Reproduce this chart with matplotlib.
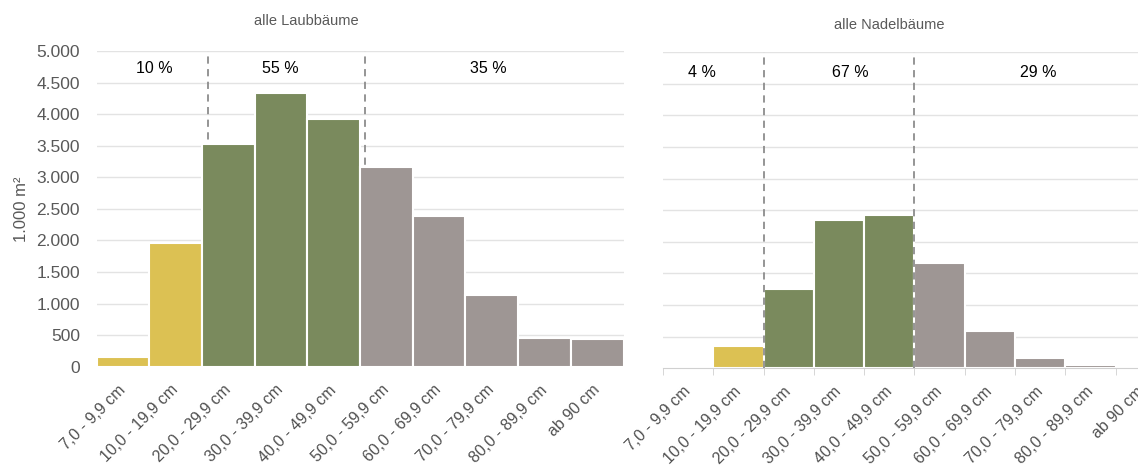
import numpy as np
import matplotlib.pyplot as plt

plt.rcParams['font.family'] = ['Liberation Sans', 'DejaVu Sans']

classes = ['7,0 - 9,9 cm', '10,0 - 19,9 cm', '20,0 - 29,9 cm', '30,0 - 39,9 cm',
           '40,0 - 49,9 cm', '50,0 - 59,9 cm', '60,0 - 69,9 cm', '70,0 - 79,9 cm',
           '80,0 - 89,9 cm', 'ab 90 cm']
laub  = [150, 1960, 3520, 4330, 3930, 3160, 2380, 1140, 460, 445]
nadel = [15, 360, 1250, 2350, 2420, 1660, 590, 170, 55, 35]
group = [0, 0, 1, 1, 1, 2, 2, 2, 2, 2]          # 0 = klein, 1 = mittel, 2 = stark
laub_pct  = ['10 %', '55 %', '35 %']
nadel_pct = ['4 %', '67 %', '29 %']
yticks = [0, 500, 1000, 1500, 2000, 2500, 3000, 3500, 4000, 4500, 5000]
ytick_lbl = ['0', '500', '1.000', '1.500', '2.000', '2.500', '3.000', '3.500',
             '4.000', '4.500', '5.000']

cols = ['#DCC153', '#7A8A5D', '#9E9694']
grid_c = '#E3E3E3'
x = np.arange(len(classes))

fig = plt.figure(figsize=(11.38, 4.67), dpi=100)
ax1 = fig.add_axes([0.0849, 0.2148, 0.4630, 0.6760])
ax2 = fig.add_axes([0.5826, 0.2113, 0.4420, 0.6773])

def style(ax):
    ax.set_xlim(-0.5, 9.5)
    ax.set_ylim(0, 5000)
    ax.set_yticks(yticks)
    ax.grid(axis='y', color=grid_c, lw=1.0, zorder=0)
    ax.set_axisbelow(True)
    for s in ['top', 'right', 'left', 'bottom']:
        ax.spines[s].set_visible(False)
    ax.set_xticks(x)
    ax.set_xticklabels(classes, rotation=45, ha='right', va='center',
                       rotation_mode='anchor', fontsize=11.5, color='#505050')
    ax.tick_params(axis='x', length=0, pad=15)
    ax.tick_params(axis='y', length=0, pad=12)

## left: Laubbaeume
style(ax1)
ax1.bar(x, laub, width=1.0, color=[cols[g] for g in group], edgecolor='white',
        linewidth=1.5, zorder=2)
ax1.set_yticklabels(ytick_lbl, fontsize=12.5, color='#595959')
ax1.set_ylabel('1.000 m²', fontsize=12, color='#595959', labelpad=5)
for xv in [1.61, 4.59]:
    ax1.axvline(xv, color='#8C8C8C', ls=(0, (4, 3)), lw=1.3, zorder=1)
for xv, t in zip([0.6, 2.98, 6.93], laub_pct):
    ax1.text(xv, 4720, t, ha='center', va='center', fontsize=11.5, color='black')
fig.text(306 / 1138, 1 - 21 / 467, 'alle Laubbäume', ha='center', va='center',
         fontsize=10.5, color='#595959')

## right: Nadelbaeume
style(ax2)
ax2.bar(x, nadel, width=1.0, color=[cols[g] for g in group], edgecolor='white',
        linewidth=1.5, zorder=2)
ax2.set_yticklabels([])
ax2.spines['bottom'].set_visible(True)
ax2.spines['bottom'].set_color('#D0D0D0')
ax2.set_xticks(np.arange(-0.5, 10, 1.0), minor=True)
ax2.tick_params(axis='x', which='minor', length=5, color='#D0D0D0')
for xv in [1.5, 4.5]:
    ax2.axvline(xv, color='#8C8C8C', ls=(0, (4, 3)), lw=1.3, zorder=3)
for xv, t in zip([0.28, 3.22, 6.97], nadel_pct):
    ax2.text(xv, 4680, t, ha='center', va='center', fontsize=11.5, color='black')
fig.text(889 / 1138, 1 - 25 / 467, 'alle Nadelbäume', ha='center', va='center',
         fontsize=10.5, color='#595959')

fig.savefig('out.png', dpi=100)
